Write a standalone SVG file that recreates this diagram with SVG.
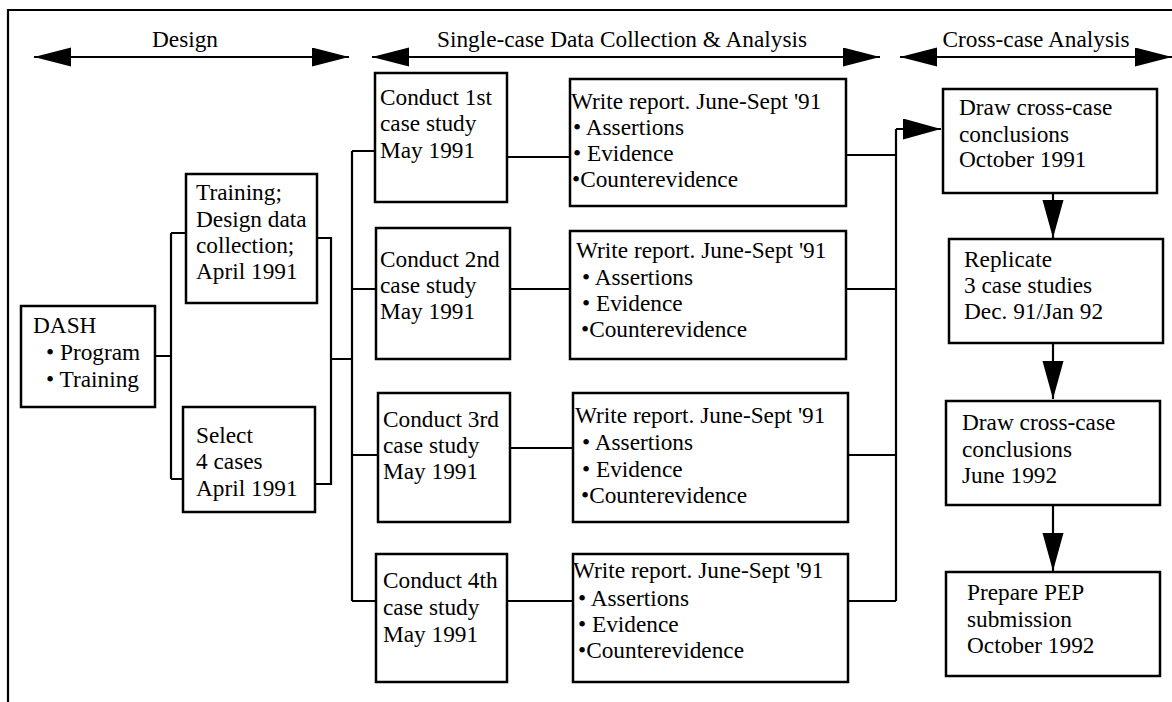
<svg xmlns="http://www.w3.org/2000/svg" width="1172" height="702" viewBox="0 0 1172 702">
<style>
text{font-family:"Liberation Serif","Times New Roman",serif;font-size:23.3px;fill:#000}
.box{fill:#fff;stroke:#000;stroke-width:2.5}
.ln{fill:none;stroke:#000;stroke-width:2.2}
.hd{fill:none;stroke:#000;stroke-width:2.2;marker-start:url(#hh);marker-end:url(#hh)}
.ar{fill:none;stroke:#000;stroke-width:2.2;marker-end:url(#ah)}
</style>
<defs>
<marker id="ah" markerUnits="userSpaceOnUse" markerWidth="40" markerHeight="22" refX="38" refY="10.5" orient="auto"><path d="M0,0 L38,10.5 L0,21 Z" fill="#000"/></marker>
<marker id="hh" markerUnits="userSpaceOnUse" markerWidth="40" markerHeight="20" refX="37" refY="9.5" orient="auto-start-reverse"><path d="M0,0 L37,9.5 L0,19 Z" fill="#000"/></marker>
</defs>
<rect width="1172" height="702" fill="#fff"/>
<path class="ln" d="M8,702 V10 H1172" stroke-width="2.5"/>
<g id="headers">
<line class="hd" x1="34" y1="57" x2="349" y2="57"/>
<text x="185" y="47" text-anchor="middle">Design</text>
<line class="hd" x1="372" y1="57" x2="880" y2="57"/>
<text x="622" y="47" text-anchor="middle">Single-case Data Collection &amp; Analysis</text>
<line class="hd" x1="900" y1="57" x2="1172" y2="57"/>
<text x="1036" y="47" text-anchor="middle">Cross-case Analysis</text>
</g>
<g id="connectors">
<path class="ln" d="M155,356 H171 M171,233 V479 M171,233 H186 M171,479 H183"/>
<path class="ln" d="M317,238 H331 V484 H315 M331,359 H352"/>
<path class="ln" d="M352,151 V601 M352,151 H375 M352,289 H376 M352,455 H378 M352,601 H376"/>
<path class="ln" d="M507,157 H570 M510,289 H570 M510,448 H573 M507,601 H573"/>
<path class="ln" d="M846,155 H896 M846,289 H896 M848,455 H896 M848,601 H896 M896,601 V129"/>
<line class="ar" x1="896" y1="129" x2="941" y2="129"/>
<line class="ar" x1="1053" y1="193" x2="1053" y2="238"/>
<line class="ar" x1="1053" y1="343" x2="1053" y2="399"/>
<line class="ar" x1="1053" y1="505" x2="1053" y2="571"/>
</g>
<g id="dash">
<rect class="box" x="21" y="306" width="134" height="101"/>
<text x="33" y="333">DASH</text>
<text x="46" y="360">• Program</text>
<text x="46" y="387">• Training</text>
</g>
<g id="training">
<rect class="box" x="186" y="174" width="131" height="129"/>
<text x="196" y="200">Training;</text>
<text x="196" y="227">Design data</text>
<text x="196" y="253">collection;</text>
<text x="196" y="279">April 1991</text>
</g>
<g id="select">
<rect class="box" x="183" y="407" width="132" height="105"/>
<text x="196" y="443">Select</text>
<text x="196" y="469">4 cases</text>
<text x="196" y="496">April 1991</text>
</g>
<g id="conduct1">
<rect class="box" x="375" y="73" width="132" height="129"/>
<text x="380" y="105">Conduct 1st</text>
<text x="380" y="131">case study</text>
<text x="380" y="158">May 1991</text>
</g>
<g id="conduct2">
<rect class="box" x="376" y="228" width="134" height="131"/>
<text x="380" y="267">Conduct 2nd</text>
<text x="380" y="293">case study</text>
<text x="380" y="319">May 1991</text>
</g>
<g id="conduct3">
<rect class="box" x="378" y="393" width="132" height="129"/>
<text x="383" y="427">Conduct 3rd</text>
<text x="383" y="453">case study</text>
<text x="383" y="479">May 1991</text>
</g>
<g id="conduct4">
<rect class="box" x="376" y="554" width="131" height="128"/>
<text x="383" y="588">Conduct 4th</text>
<text x="383" y="615">case study</text>
<text x="383" y="642">May 1991</text>
</g>
<g id="report1">
<rect class="box" x="570" y="79" width="276" height="127"/>
<text x="571" y="109">Write report. June-Sept '91</text>
<text x="573" y="135">• Assertions</text>
<text x="573" y="161">• Evidence</text>
<text x="572" y="187">•Counterevidence</text>
</g>
<g id="report2">
<rect class="box" x="570" y="231" width="276" height="128"/>
<text x="576" y="258">Write report. June-Sept '91</text>
<text x="582" y="285">• Assertions</text>
<text x="582" y="311">• Evidence</text>
<text x="581" y="337">•Counterevidence</text>
</g>
<g id="report3">
<rect class="box" x="573" y="393" width="275" height="129"/>
<text x="575" y="423">Write report. June-Sept '91</text>
<text x="582" y="450">• Assertions</text>
<text x="582" y="477">• Evidence</text>
<text x="581" y="503">•Counterevidence</text>
</g>
<g id="report4">
<rect class="box" x="573" y="554" width="275" height="128"/>
<text x="573" y="578">Write report. June-Sept '91</text>
<text x="578" y="606">• Assertions</text>
<text x="578" y="632">• Evidence</text>
<text x="578" y="658">•Counterevidence</text>
</g>
<g id="draw1">
<rect class="box" x="943" y="89" width="214" height="104"/>
<text x="959" y="115">Draw cross-case</text>
<text x="959" y="142">conclusions</text>
<text x="959" y="167">October 1991</text>
</g>
<g id="replicate">
<rect class="box" x="949" y="239" width="214" height="104"/>
<text x="964" y="267">Replicate</text>
<text x="964" y="293">3 case studies</text>
<text x="964" y="319">Dec. 91/Jan 92</text>
</g>
<g id="draw2">
<rect class="box" x="946" y="401" width="214" height="104"/>
<text x="962" y="430">Draw cross-case</text>
<text x="962" y="457">conclusions</text>
<text x="962" y="483">June 1992</text>
</g>
<g id="pep">
<rect class="box" x="946" y="572" width="214" height="104"/>
<text x="967" y="600">Prepare PEP</text>
<text x="967" y="627">submission</text>
<text x="967" y="653">October 1992</text>
</g>
</svg>
